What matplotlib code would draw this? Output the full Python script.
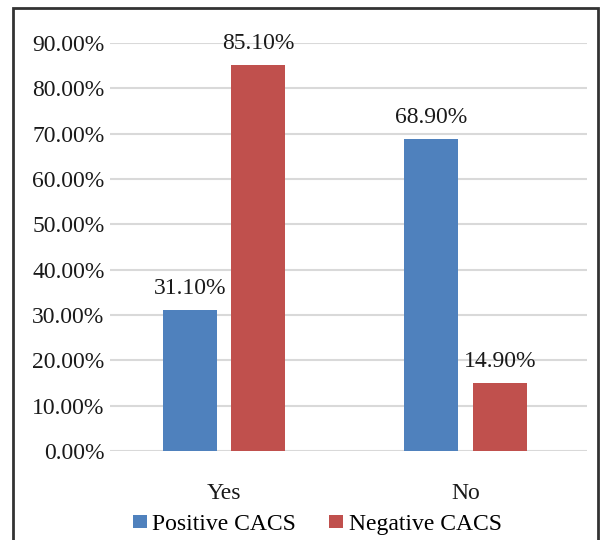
import matplotlib
matplotlib.use("Agg")
import matplotlib.pyplot as plt
from matplotlib.patches import Rectangle
from matplotlib.ticker import FuncFormatter
import numpy as np

categories = ["Yes", "No"]
series_names = ["Positive CACS", "Negative CACS"]
positive = [31.10, 68.90]
negative = [85.10, 14.90]
colors = ["#4F81BD", "#C0504D"]

plt.rcParams["font.family"] = ["Liberation Serif", "DejaVu Serif"]
FS = 17

fig = plt.figure(figsize=(6.02, 5.40), dpi=100)
ax = fig.add_axes([0.1827, 0.1648, 0.7923, 0.7556])

x = np.arange(len(categories))
w = 0.2236
off = 0.1418
for vals, name, col, d in [(positive, series_names[0], colors[0], -off),
                            (negative, series_names[1], colors[1], off)]:
    bars = ax.bar(x + d, vals, width=w, color=col, label=name, zorder=3)
    for b, v in zip(bars, vals):
        ax.annotate(f"{v:.2f}%", (b.get_x() + b.get_width() / 2, v),
                    xytext=(0, 8), textcoords="offset points",
                    ha="center", va="bottom", fontsize=FS, color="#1a1a1a")

ax.set_xlim(-0.472, 1.503)
ax.set_ylim(0, 90)
ax.set_yticks(np.arange(0, 91, 10))
ax.yaxis.set_major_formatter(FuncFormatter(lambda v, p: f"{v:.2f}%"))
ax.set_xticks(x)
ax.set_xticklabels(categories)
ax.tick_params(axis="both", length=0, labelsize=FS, colors="#1a1a1a")
ax.tick_params(axis="y", pad=4)
ax.tick_params(axis="x", pad=23)
ax.grid(axis="y", color="#d9d9d9", linewidth=1.5, zorder=0)
for s in ax.spines.values():
    s.set_visible(False)

leg = fig.legend(loc="center left", bbox_to_anchor=(133 / 602, 1 - 524.5 / 540),
                 ncol=2, frameon=False, fontsize=FS, handlelength=0.6,
                 handleheight=0.5, handletextpad=0.22, columnspacing=1.4,
                 borderaxespad=0, borderpad=0)

# outer chart frame
fig.patches.append(Rectangle((13 / 602, -0.05), (598 - 13) / 602, 1.05 - 8 / 540,
                             transform=fig.transFigure, fill=False,
                             edgecolor="#333333", linewidth=2))

fig.savefig("out.png", dpi=100)
